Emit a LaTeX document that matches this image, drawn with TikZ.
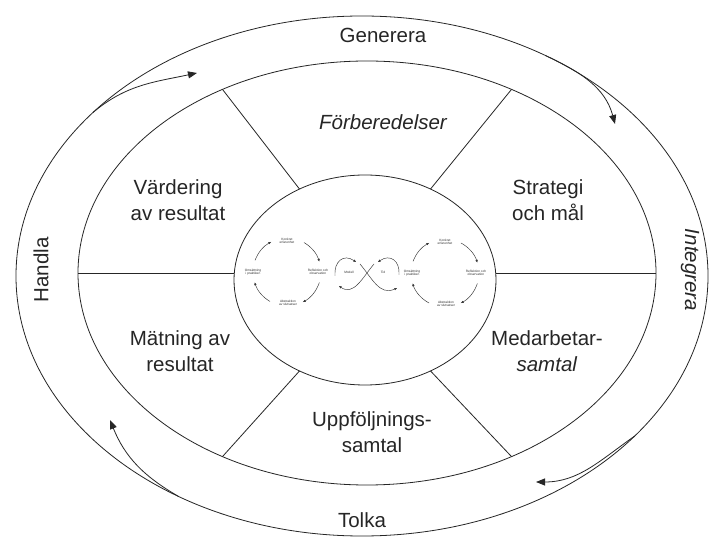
\documentclass[tikz,border=0pt]{standalone}
\usepackage{fontspec}
\setmainfont{Liberation Sans}
\usetikzlibrary{arrows.meta,calc}
\begin{document}
\begin{tikzpicture}[x=1pt,y=1pt,
  ring/.style={line width=0.8pt, draw=black!85},
  flow/.style={line width=0.8pt, draw=black!85, -{Triangle[length=9pt,width=7pt]}},
  cyc/.style={line width=0.45pt, draw=black!80, -{Triangle[length=2.6pt,width=2.2pt]}},
  big/.style={font=\fontsize{20.5}{26}\selectfont, align=center, inner sep=0pt, text=black!85},
  tiny/.style={font=\fontsize{3.2}{3.6}\selectfont, align=center, inner sep=0.5pt, text=black!80}]
\useasboundingbox (0,0) rectangle (709,538);
\fill[white] (0,0) rectangle (709,538);

% centres of the three ellipses
\coordinate (oc) at (362,262);
\coordinate (ic) at (367,265);
\coordinate (cc) at (365,258);

% rings
\draw[ring] (oc) ellipse [x radius=346, y radius=260];
\draw[ring] (ic) ellipse [x radius=289, y radius=212];
\draw[ring] (cc) ellipse [x radius=131, y radius=105];

% slanted spokes between the middle ring and the core
\foreach \a in {60,120,240,300}
  \draw[ring] ($(cc)+(\a:131 and 105)$) -- ($(ic)+(\a:289 and 212)$);
% level spokes
\coordinate (hl1) at (78,265);
\coordinate (hl2) at (234.3,265);
\coordinate (hr1) at (495.7,265);
\coordinate (hr2) at (656,265);
\draw[ring] (hl1) -- (hl2);
\draw[ring] (hr1) -- (hr2);

% labels of the outer band
\node[big] (gen) at (383,503) {Generera};
\node[big] (tol) at (362,18) {Tolka};
\node[big, rotate=90] (han) at (41,268) {Handla};
\node[big, rotate=-90, font=\fontsize{20.5}{26}\selectfont\itshape] (int) at (690,268) {Integrera};

% labels of the six sectors
\node[big, font=\fontsize{20.5}{26}\selectfont\itshape] (forb) at (383,416) {Förberedelser};
\node[big] (vard) at (178,338) {Värdering\\av resultat};
\node[big] (strat) at (548,338) {Strategi\\och mål};
\node[big] (mat) at (180,187) {Mätning av\\resultat};
\node[big] (med) at (547,187) {Medarbetar-\\\textit{samtal}};
\node[big] (upp) at (372,106) {Uppföljnings-\\samtal};

% points where the flow arrows leave the outer ring
\coordinate (f1) at ($(oc)+(141:346 and 260)$);
\coordinate (f2) at ($(oc)+(58:346 and 260)$);
\coordinate (f3) at ($(oc)+(-38:346 and 260)$);
\coordinate (f4) at ($(oc)+(-122:346 and 260)$);
\coordinate (t1) at (197,465);
\coordinate (t2) at (615,414);
\coordinate (t3) at (536,56);
\coordinate (t4) at (110,118);

% flow arrows inside the outer band
\draw[flow] (f1) to[out=40, in=192] (t1);
\draw[flow] (f2) to[out=-25, in=105] (t2);
\draw[flow] (f3) to[out=215, in=0] (t3);
\draw[flow] (f4) to[out=150, in=-68] (t4);

% left learning cycle
\begin{scope}[shift={(287,266)}]
  \node[tiny] (la) at (0,31) {Konkret\\erfarenhet};
  \node[tiny] (lb) at (31,0) {Reflektion och\\observation};
  \node[tiny] (lc) at (1,-31) {Abstraktion\\av slutsatser};
  \node[tiny] (ld) at (-34,0) {Omsättning\\i praktiken};
  \draw[cyc] (60:34) arc[start angle=60, end angle=18, radius=34];
  \draw[cyc] (-18:34) arc[start angle=-18, end angle=-62, radius=34];
  \draw[cyc] (-120:34) arc[start angle=-120, end angle=-162, radius=34];
  \draw[cyc] (160:34) arc[start angle=160, end angle=118, radius=34];
\end{scope}

% right learning cycle
\begin{scope}[shift={(445,265)}]
  \node[tiny] (ra) at (0,31) {Konkret\\erfarenhet};
  \node[tiny] (rb) at (31,0) {Reflektion och\\observation};
  \node[tiny] (rc) at (1,-31) {Abstraktion\\av slutsatser};
  \node[tiny] (rd) at (-33,0) {Omsättning\\i praktiken};
  \draw[cyc] (62:34) arc[start angle=62, end angle=18, radius=34];
  \draw[cyc] (-18:34) arc[start angle=-18, end angle=-62, radius=34];
  \draw[cyc] (-118:34) arc[start angle=-118, end angle=-162, radius=34];
  \draw[cyc] (160:34) arc[start angle=160, end angle=118, radius=34];
\end{scope}

% figure of eight between the cycles
\begin{scope}[shift={(367,266)}]
  \node[tiny] (mod) at (-18,0) {Modell};
  \node[tiny] (tid) at (16,0) {Tid};
  \draw[cyc] (7,8) to[out=-130, in=-35, looseness=1.1] (-28,-14);
  \draw[cyc] (-32,-4) to[out=95, in=145, looseness=1.5] (-11,10);
  \draw[cyc] (-7,8) to[out=-50, in=-155, looseness=1.1] (30,-16);
  \draw[cyc] (32,-3) to[out=85, in=35, looseness=1.5] (11,10);
\end{scope}
\end{tikzpicture}
\end{document}
